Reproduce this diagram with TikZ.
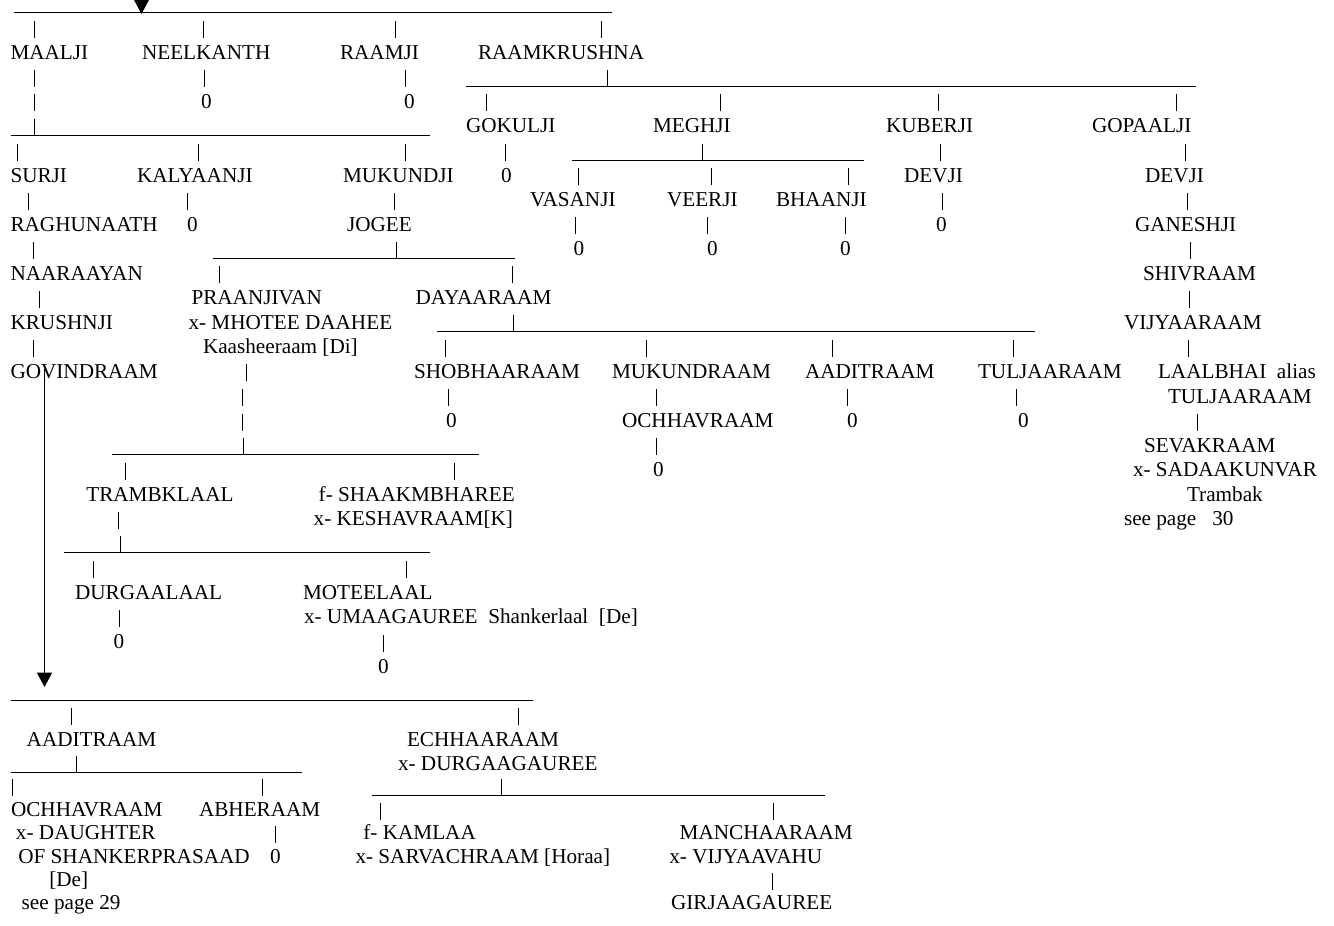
\documentclass[tikz,border=0pt]{standalone}
\usepackage{fontspec}
\setmainfont{Liberation Serif}
\usetikzlibrary{arrows.meta}
\tikzset{
 txt/.style={anchor=base west, inner sep=0pt, outer sep=0pt, font=\fontsize{21.2pt}{24.4pt}\selectfont, text=black},
 pipe/.style={draw=black, line width=0.9pt},
 uline/.style={draw=black, line width=1pt},
 arr/.style={draw=black, line width=1.8pt, -{Triangle[width=15pt,length=14.5pt]}},
}
\newcommand\nm[4]{\node[txt] (#1) at (#2,{bl(#3)}) {#4};}
\newcommand\mypipe[2]{\draw[pipe] (#1,{bl(#2)+3}) -- (#1,{bl(#2)-14});}
\newcommand\myline[3]{\draw[uline] (#1,{bl(#3)+2.5}) -- (#2,{bl(#3)+2.5});}
\begin{document}
\begin{tikzpicture}[x=1pt,y=-1pt,declare function={bl(\n)=(\n<=31)?(10.2+24.55*(\n-1)):(746.7+23.3*(\n-31));}]
\path[use as bounding box] (0,0) rectangle (1334,926);
\clip (0,0) rectangle (1334,926);
% row 1
\myline{14}{612}{1}
\coordinate (topstart) at (141.5,-40);
\coordinate (toptip) at (141.5,14);
\draw[arr] (topstart) -- (toptip);
% row 2
\mypipe{34}{2}\mypipe{203}{2}\mypipe{395}{2}\mypipe{601}{2}
% row 3
\nm{maalji}{10.5}{3}{MAALJI}
\nm{neelkanth}{142}{3}{NEELKANTH}
\nm{raamji}{340}{3}{RAAMJI}
\nm{raamkrushna}{478}{3}{RAAMKRUSHNA}
% row 4
\mypipe{34}{4}\mypipe{204}{4}\mypipe{405}{4}
\myline{466}{1196}{4}\mypipe{607}{4}
% row 5
\mypipe{34}{5}
\nm{z1}{201}{5}{0}
\nm{z2}{404}{5}{0}
\mypipe{486}{5}\mypipe{720}{5}\mypipe{938}{5}\mypipe{1176}{5}
% row 6
\myline{10.5}{429.5}{6}\mypipe{34.5}{6}
\nm{gokulji}{466}{6}{GOKULJI}
\nm{meghji}{653}{6}{MEGHJI}
\nm{kuberji}{886}{6}{KUBERJI}
\nm{gopaalji}{1092}{6}{GOPAALJI}
% row 7
\mypipe{17.5}{7}\mypipe{198}{7}\mypipe{405.5}{7}\mypipe{505}{7}
\myline{572}{864}{7}\mypipe{702}{7}
\mypipe{940}{7}\mypipe{1185}{7}
% row 8
\nm{surji}{10.5}{8}{SURJI}
\nm{kalyaanji}{137}{8}{KALYAANJI}
\nm{mukundji}{343}{8}{MUKUNDJI}
\nm{z3}{501}{8}{0}
\mypipe{578.5}{8}\mypipe{711}{8}\mypipe{848}{8}
\nm{devjia}{904}{8}{DEVJI}
\nm{devjib}{1145}{8}{DEVJI}
% row 9
\mypipe{28.5}{9}\mypipe{187.5}{9}\mypipe{394.5}{9}
\nm{vasanji}{530}{9}{VASANJI}
\nm{veerji}{667}{9}{VEERJI}
\nm{bhaanji}{776}{9}{BHAANJI}
\mypipe{942.5}{9}\mypipe{1187}{9}
% row 10
\nm{raghunaath}{10.5}{10}{RAGHUNAATH}
\nm{z4}{187}{10}{0}
\nm{jogee}{347}{10}{JOGEE}
\mypipe{575}{10}\mypipe{707}{10}\mypipe{845}{10}
\nm{z5}{936}{10}{0}
\nm{ganeshji}{1135}{10}{GANESHJI}
% row 11
\mypipe{33}{11}
\myline{212.5}{514.5}{11}\mypipe{396}{11}
\nm{z6}{573.5}{11}{0}
\nm{z7}{707}{11}{0}
\nm{z8}{840}{11}{0}
\mypipe{1190}{11}
% row 12
\nm{naaraayan}{10.5}{12}{NAARAAYAN}
\mypipe{219}{12}\mypipe{512}{12}
\nm{shivraam}{1143}{12}{SHIVRAAM}
% row 13
\mypipe{39}{13}
\nm{praanjivan}{191.5}{13}{PRAANJIVAN}
\nm{dayaaraam}{415.5}{13}{DAYAARAAM}
\mypipe{1189}{13}
% row 14
\nm{krushnji}{10.5}{14}{KRUSHNJI}
\nm{mhotee}{188.5}{14}{x- MHOTEE DAAHEE}
\myline{437}{1035}{14}\mypipe{513}{14}
\nm{vijyaaraam}{1124}{14}{VIJYAARAAM}
% row 15
\mypipe{33.7}{15}
\nm{kaasheeraam}{203}{15}{Kaasheeraam [Di]}
\mypipe{445}{15}\mypipe{646}{15}\mypipe{832}{15}\mypipe{1013}{15}\mypipe{1188}{15}
% row 16
\nm{govindraam}{10.5}{16}{GOVINDRAAM}
\mypipe{246}{16}
\nm{shobhaaraam}{414}{16}{SHOBHAARAAM}
\nm{mukundraam}{612}{16}{MUKUNDRAAM}
\nm{aaditraama}{805}{16}{AADITRAAM}
\nm{tuljaaraama}{978}{16}{TULJAARAAM}
\nm{laalbhai}{1158}{16}{LAALBHAI\ \ alias}
% row 17
\mypipe{242}{17}\mypipe{448}{17}\mypipe{656}{17}\mypipe{847}{17}\mypipe{1016}{17}
\nm{tuljaaraamb}{1168}{17}{TULJAARAAM}
% row 18
\mypipe{242}{18}
\nm{z9}{446}{18}{0}
\nm{ochhavraama}{622}{18}{OCHHAVRAAM}
\nm{z10}{847}{18}{0}
\nm{z11}{1018}{18}{0}
\mypipe{1197}{18}
% row 19
\myline{111.5}{479}{19}\mypipe{243}{19}
\mypipe{656}{19}
\nm{sevakraam}{1144}{19}{SEVAKRAAM}
% row 20
\mypipe{125.5}{20}\mypipe{454}{20}
\nm{z12}{653}{20}{0}
\nm{sadaakunvar}{1133}{20}{x- SADAAKUNVAR}
% row 21
\nm{trambklaal}{86.3}{21}{TRAMBKLAAL}
\nm{shaakmbharee}{318.7}{21}{f- SHAAKMBHAREE}
\nm{trambak}{1187}{21}{Trambak}
% row 22
\mypipe{118.7}{22}
\nm{keshavraam}{313.7}{22}{x- KESHAVRAAM[K]}
\nm{seepagea}{1124}{22}{see page\ \ \ 30}
% row 23
\myline{64}{430}{23}\mypipe{120}{23}
% row 24
\mypipe{93.5}{24}\mypipe{406}{24}
% row 25
\nm{durgaalaal}{75}{25}{DURGAALAAL}
\nm{moteelaal}{303}{25}{MOTEELAAL}
% row 26
\mypipe{119}{26}
\nm{umaagauree}{304}{26}{x- UMAAGAUREE\ \ Shankerlaal\ \ [De]}
% row 27
\nm{z13}{113.7}{27}{0}
\mypipe{383}{27}
% row 28
\nm{z14}{378}{28}{0}
% long arrow
\coordinate (govstart) at (44.5,369);
\coordinate (govtip) at (44.5,687);
\draw[arr] (govstart) -- (govtip);
% row 29
\myline{11}{533}{29}
% row 30
\mypipe{71}{30}\mypipe{518}{30}
% row 31
\nm{aaditraamb}{26.7}{31}{AADITRAAM}
\nm{echhaaraam}{407}{31}{ECHHAARAAM}
% row 32
\myline{11}{301.7}{32}\mypipe{76}{32}
\nm{durgaagauree}{398}{32}{x- DURGAAGAUREE}
% row 33
\mypipe{12.7}{33}\mypipe{262.3}{33}
\myline{371.7}{824.5}{33}\mypipe{501}{33}
% row 34
\nm{ochhavraamb}{11}{34}{OCHHAVRAAM}
\nm{abheraam}{199}{34}{ABHERAAM}
\mypipe{380.3}{34}\mypipe{773.8}{34}
% row 35
\nm{daughter}{16}{35}{x- DAUGHTER}
\mypipe{275}{35}
\nm{kamlaa}{363.4}{35}{f- KAMLAA}
\nm{manchaaraam}{679.7}{35}{MANCHAARAAM}
% row 36
\nm{shankerprasaad}{18.3}{36}{OF SHANKERPRASAAD}
\nm{z15}{270}{36}{0}
\nm{sarvachraam}{355.5}{36}{x- SARVACHRAAM [Horaa]}
\nm{vijyaavahu}{669.3}{36}{x- VIJYAAVAHU}
% row 37
\nm{de}{49.3}{37}{[De]}
\mypipe{772}{37}
% row 38
\nm{seepageb}{21.7}{38}{see page 29}
\nm{girjaagauree}{671}{38}{GIRJAAGAUREE}
\end{tikzpicture}
\end{document}
